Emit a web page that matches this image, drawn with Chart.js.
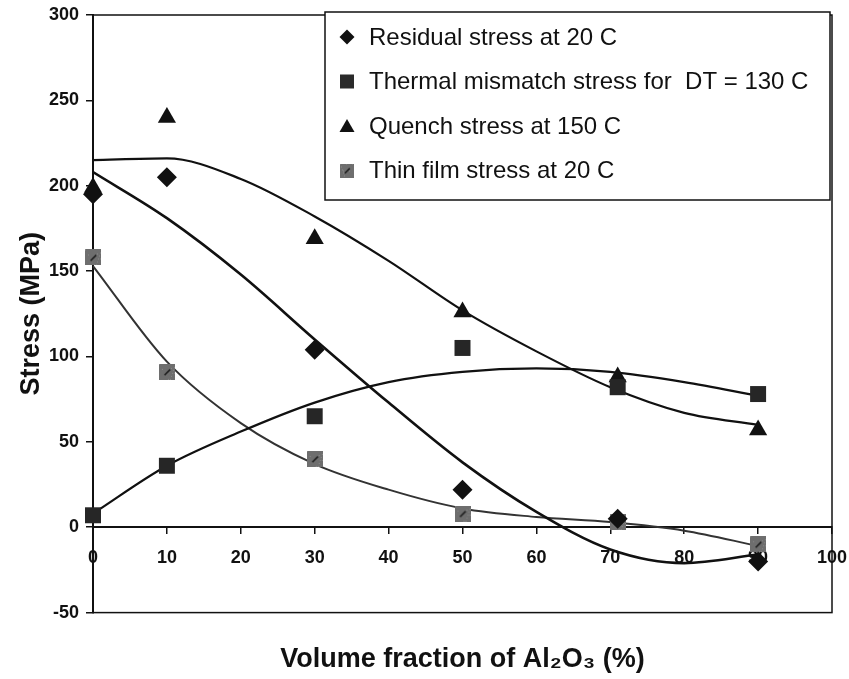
<!DOCTYPE html>
<html><head><meta charset="utf-8">
<script src="https://cdn.jsdelivr.net/npm/chart.js@4.4.1/dist/chart.umd.min.js"></script>
<style>html,body{margin:0;padding:0;background:#fff;overflow:hidden;}</style>
</head><body>
<canvas id="c" width="849" height="679" style="display:block;width:849px;height:679px"></canvas>
<script>
// ---- data ----
const xValues = [0, 10, 30, 50, 71, 90];
const residualStress = [195, 205, 104, 22, 5, -20];
const thermalMismatchStress = [7, 36, 65, 105, 82, 78];
const quenchStress = [199, 240, 169, 126, 88, 57];
const thinFilmStress = [158, 91, 40, 8, 3, -10];

// trend curves at every 10 %
const trendX = [0, 10, 20, 30, 40, 50, 60, 70, 80, 90];
const residualTrend = [208, 181, 148, 110, 73, 38, 9, -13, -21, -16];
const thermalTrend = [8, 36, 56, 73, 85, 91, 93, 91, 85, 77];
const quenchTrend = [215, 216, 204, 182, 156, 127, 103, 82, 67, 60];
const thinFilmTrend = [153, 97, 61, 37, 22, 11, 6, 3, -2, -11];

const seriesLabels = [
  'Residual stress at 20 C',
  'Thermal mismatch stress for  DT = 130 C',
  'Quench stress at 150 C',
  'Thin film stress at 20 C'
];
const xTickValues = [0, 10, 20, 30, 40, 50, 60, 70, 80, 90, 100];
const yTickValues = [-50, 0, 50, 100, 150, 200, 250, 300];
const xAxisTitle = 'Volume fraction of Al\u2082O\u2083 (%)';
const yAxisTitle = 'Stress (MPa)';

// ---- helpers ----
const FONT = '"Liberation Sans", Arial, Helvetica, sans-serif';
const INK = '#111111';
const GREY = '#6e6e6e';

function pts(xs, ys) { return xs.map((x, i) => ({ x: x, y: ys[i] })); }

function hatchedSquare(size) {
  const c = document.createElement('canvas');
  c.width = size; c.height = size;
  const g = c.getContext('2d');
  g.fillStyle = GREY; g.fillRect(0, 0, size, size);
  g.fillStyle = '#8a8a8a';
  for (let i = 0; i < size; i += 3) { g.fillRect(i, (i * 7) % size, 1, 1); g.fillRect((i * 5) % size, i, 1, 1); }
  g.strokeStyle = '#1e1e1e'; g.lineWidth = 1.6;
  g.beginPath(); g.moveTo(size * 0.35, size * 0.7); g.lineTo(size * 0.7, size * 0.35); g.stroke();
  return c;
}
const thinMarkerBig = hatchedSquare(16);
const thinMarkerSmall = hatchedSquare(14);

function drawMarker(ctx, idx, x, y) {
  ctx.save();
  ctx.fillStyle = INK;
  ctx.beginPath();
  if (idx === 0) {
    const r = 7.5;
    ctx.moveTo(x, y - r); ctx.lineTo(x + r, y); ctx.lineTo(x, y + r); ctx.lineTo(x - r, y); ctx.closePath(); ctx.fill();
  } else if (idx === 1) {
    ctx.fillStyle = '#2a2a2a';
    ctx.fillRect(x - 7, y - 7, 14, 14);
  } else if (idx === 2) {
    ctx.moveTo(x, y - 7); ctx.lineTo(x + 7.5, y + 6); ctx.lineTo(x - 7.5, y + 6); ctx.closePath(); ctx.fill();
  } else {
    ctx.drawImage(thinMarkerSmall, x - 7, y - 7);
  }
  ctx.restore();
}

const framePlugin = {
  id: 'frame',
  beforeDatasetsDraw(chart) {
    const a = chart.chartArea, ctx = chart.ctx;
    ctx.save();
    ctx.strokeStyle = INK; ctx.lineWidth = 1.5;
    ctx.strokeRect(a.left, a.top, a.right - a.left, a.bottom - a.top);
    ctx.restore();
  }
};

const boxLegendPlugin = {
  id: 'boxLegend',
  afterDraw(chart) {
    const ctx = chart.ctx;
    const L = 325, T = 12, R = 830, B = 200;
    ctx.save();
    ctx.fillStyle = '#ffffff';
    ctx.fillRect(L, T, R - L, B - T);
    ctx.strokeStyle = INK; ctx.lineWidth = 1.5;
    ctx.strokeRect(L, T, R - L, B - T);
    ctx.font = '24px ' + FONT;
    ctx.fillStyle = INK;
    ctx.textBaseline = 'middle';
    ctx.textAlign = 'left';
    seriesLabels.forEach((lab, i) => {
      const y = 37 + 44.5 * i;
      drawMarker(ctx, i, 347, y);
      ctx.fillText(lab, 369, y + 1);
    });
    ctx.restore();
  }
};

Chart.defaults.font.family = FONT;
Chart.defaults.color = INK;

new Chart(document.getElementById('c'), {
  type: 'scatter',
  data: {
    datasets: [
      { label: seriesLabels[0], data: pts(xValues, residualStress), pointStyle: 'rectRot', pointRadius: 10, pointHoverRadius: 10,
        backgroundColor: INK, borderColor: INK, borderWidth: 0, clip: false },
      { label: seriesLabels[1], data: pts(xValues, thermalMismatchStress), pointStyle: 'rect', pointRadius: 11.3, pointHoverRadius: 11.3,
        backgroundColor: '#262626', borderColor: '#262626', borderWidth: 0, clip: false },
      { label: seriesLabels[2], data: pts(xValues, quenchStress), pointStyle: 'triangle', pointRadius: 10.5, pointHoverRadius: 10.5,
        backgroundColor: INK, borderColor: INK, borderWidth: 0, clip: false },
      { label: seriesLabels[3], data: pts(xValues, thinFilmStress), pointStyle: thinMarkerBig,
        backgroundColor: GREY, borderColor: GREY, borderWidth: 0, clip: false },
      { label: 'residual trend', data: pts(trendX, residualTrend), showLine: true, pointRadius: 0, borderColor: INK, borderWidth: 2.6,
        cubicInterpolationMode: 'monotone', fill: false },
      { label: 'thermal trend', data: pts(trendX, thermalTrend), showLine: true, pointRadius: 0, borderColor: INK, borderWidth: 2.2,
        cubicInterpolationMode: 'monotone', fill: false },
      { label: 'quench trend', data: pts(trendX, quenchTrend), showLine: true, pointRadius: 0, borderColor: INK, borderWidth: 2.2,
        cubicInterpolationMode: 'monotone', fill: false },
      { label: 'thin film trend', data: pts(trendX, thinFilmTrend), showLine: true, pointRadius: 0, borderColor: '#333333', borderWidth: 2,
        cubicInterpolationMode: 'monotone', fill: false }
    ]
  },
  options: {
    responsive: false,
    animation: false,
    devicePixelRatio: 1,
    layout: { padding: { left: 0, right: 17, top: 15, bottom: 3 } },
    plugins: {
      legend: { display: false },
      tooltip: { enabled: false },
      title: {
        display: true, position: 'bottom', fullSize: false, text: xAxisTitle, color: INK,
        font: { size: 27, weight: 'bold', family: FONT }, padding: { top: 31, bottom: 0 }
      }
    },
    scales: {
      x: {
        type: 'linear', min: 0, max: 100, position: { y: 0 },
        afterBuildTicks(s) { s.ticks = xTickValues.map(v => ({ value: v })); },
        afterFit(s) { s.paddingLeft = 0; s.paddingRight = 0; },
        grid: { drawOnChartArea: false, drawTicks: true, tickLength: 6, color: INK, lineWidth: 1.5 },
        border: { display: true, color: INK, width: 2 },
        ticks: { padding: 14, maxRotation: 0, autoSkip: false, color: INK, font: { size: 18, weight: 'bold' } },
        title: { display: false }
      },
      y: {
        type: 'linear', min: -50, max: 300, position: 'left',
        afterBuildTicks(s) { s.ticks = yTickValues.map(v => ({ value: v })); },
        afterFit(s) { s.width = 93; s.paddingTop = 0; s.paddingBottom = 0; },
        grid: { drawOnChartArea: false, drawTicks: true, tickLength: 7, color: INK, lineWidth: 1.5 },
        border: { display: true, color: INK, width: 2 },
        ticks: { padding: 7, color: INK, font: { size: 18, weight: 'bold' } },
        title: { display: true, text: yAxisTitle, color: INK, font: { size: 27, weight: 'bold' }, padding: { top: 15, bottom: 0 } }
      }
    }
  },
  plugins: [framePlugin, boxLegendPlugin]
});
</script>
</body></html>
